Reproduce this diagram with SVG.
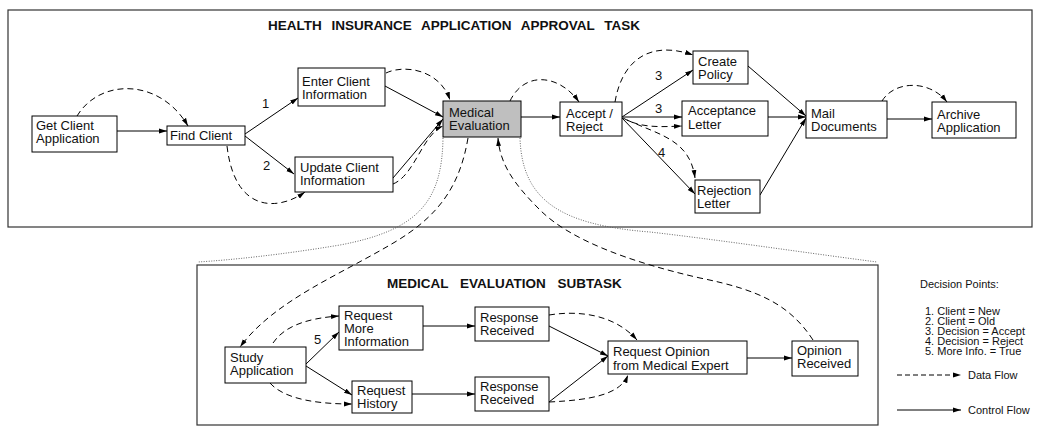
<svg xmlns="http://www.w3.org/2000/svg" width="1045" height="445" viewBox="0 0 1045 445">
<defs>
<marker id="ah" markerUnits="userSpaceOnUse" markerWidth="10" markerHeight="7" refX="8" refY="3" orient="auto">
<path d="M0,0.6 L8,3 L0,5.4 z" fill="#000"/>
</marker>
<style>
text{font-family:"Liberation Sans",Arial,sans-serif;fill:#111}
.n{font-size:13px}
.t{font-size:13.5px;font-weight:bold}
.l{font-size:11px}
.box{fill:#fff;stroke:#000;stroke-width:1}
.frame{fill:none;stroke:#333;stroke-width:1.2}
.c{fill:none;stroke:#000;stroke-width:1;marker-end:url(#ah)}
.d{fill:none;stroke:#000;stroke-width:1;stroke-dasharray:6 4;marker-end:url(#ah)}
.o{fill:none;stroke:#555;stroke-width:0.9;stroke-dasharray:1 1.5}
</style>
</defs>
<rect class="frame" x="8" y="10" width="1024" height="217"/>
<text class="t" x="268" y="30" word-spacing="6">HEALTH INSURANCE APPLICATION APPROVAL TASK</text>
<rect class="frame" x="197" y="265" width="681" height="160"/>
<text class="t" x="387" y="288" word-spacing="8">MEDICAL EVALUATION SUBTASK</text>

<g id="connectors">
<path class="o" d="M443,138 C442,200 420,230 340,245 C280,255 230,260 198,262"/>
<path class="o" d="M520,138 C522,200 560,225 650,232 C720,240 800,252 877,262"/>
<path class="c" d="M117,131 L167,131"/>
<path class="c" d="M245,134 L298,98"/>
<path class="c" d="M245,136 L294,174"/>
<path class="c" d="M385,86 L443,117"/>
<path class="c" d="M393,178 L443,119"/>
<path class="c" d="M521,117 L560,117"/>
<path class="c" d="M622,117 L693,70"/>
<path class="c" d="M622,117 L682,117"/>
<path class="c" d="M622,118 L695,194"/>
<path class="c" d="M748,66 L806,116"/>
<path class="c" d="M768,117 L806,117"/>
<path class="c" d="M760,195 L806,118"/>
<path class="c" d="M887,119 L932,119"/>
<path class="c" d="M306,364 L339,332"/>
<path class="c" d="M306,366 L352,395"/>
<path class="c" d="M423,326 L475,326"/>
<path class="c" d="M412,394 L475,394"/>
<path class="c" d="M549,326 L608,356"/>
<path class="c" d="M549,402 L608,356"/>
<path class="c" d="M747,358 L792,358"/>
<path class="d" d="M77,116 C100,78 160,78 188,126"/>
<path class="d" d="M227,146 C235,215 280,210 305,192"/>
<path class="d" d="M386,73 C405,64 440,70 450,100"/>
<path class="d" d="M393,184 C415,175 422,135 443,126"/>
<path class="d" d="M510,101 C525,70 560,75 579,102"/>
<path class="d" d="M615,102 C622,60 650,40 693,55"/>
<path class="d" d="M623,118 C640,128 660,127 682,126"/>
<path class="d" d="M627,120 C660,135 690,140 695,178"/>
<path class="d" d="M882,101 C895,80 930,80 947,102"/>
<path class="d" d="M468,138 C460,185 440,215 395,242 C340,275 275,300 240,347"/>
<path class="d" d="M813,340 C790,305 760,290 700,278 C630,262 570,240 540,210 C515,185 500,165 498,138"/>
<path class="d" d="M273,343 C285,325 310,318 339,316"/>
<path class="d" d="M270,383 C285,400 320,404 352,404"/>
<path class="d" d="M549,315 C580,310 615,315 637,340"/>
<path class="d" d="M549,402 C590,400 620,395 628,375"/>
</g>

<g id="labels">
<text class="n" x="262" y="108">1</text>
<text class="n" x="263" y="170">2</text>
<text class="n" x="655" y="80">3</text>
<text class="n" x="655" y="113">3</text>
<text class="n" x="658" y="157">4</text>
<text class="n" x="314" y="344">5</text>
</g>

<g id="get-client-application"><rect class="box" x="32" y="116" width="85" height="36"/><text class="n" x="36" y="130">Get Client</text><text class="n" x="36" y="143">Application</text></g>
<g id="find-client"><rect class="box" x="167" y="126" width="78" height="19"/><text class="n" x="170" y="140">Find Client</text></g>
<g id="enter-client-information"><rect class="box" x="298" y="68" width="87" height="38"/><text class="n" x="302" y="86">Enter Client</text><text class="n" x="302" y="99">Information</text></g>
<g id="update-client-information"><rect class="box" x="295" y="157" width="98" height="35"/><text class="n" x="300" y="172">Update Client</text><text class="n" x="300" y="185">Information</text></g>
<g id="medical-evaluation"><rect class="box" x="443" y="101" width="78" height="36" style="fill:#bfbfbf"/><text class="n" x="449" y="117">Medical</text><text class="n" x="449" y="130">Evaluation</text></g>
<g id="accept-reject"><rect class="box" x="560" y="102" width="62" height="34"/><text class="n" x="566" y="118">Accept /</text><text class="n" x="566" y="131">Reject</text></g>
<g id="create-policy"><rect class="box" x="693" y="51" width="55" height="33"/><text class="n" x="698" y="66">Create</text><text class="n" x="698" y="79">Policy</text></g>
<g id="acceptance-letter"><rect class="box" x="682" y="101" width="86" height="35"/><text class="n" x="688" y="115">Acceptance</text><text class="n" x="688" y="129">Letter</text></g>
<g id="rejection-letter"><rect class="box" x="695" y="180" width="65" height="33"/><text class="n" x="697" y="195">Rejection</text><text class="n" x="697" y="208">Letter</text></g>
<g id="mail-documents"><rect class="box" x="806" y="101" width="81" height="37"/><text class="n" x="811" y="118">Mail</text><text class="n" x="811" y="131">Documents</text></g>
<g id="archive-application"><rect class="box" x="932" y="102" width="84" height="36"/><text class="n" x="937" y="119">Archive</text><text class="n" x="937" y="132">Application</text></g>

<g id="study-application"><rect class="box" x="225" y="347" width="81" height="36"/><text class="n" x="230" y="362">Study</text><text class="n" x="230" y="375">Application</text></g>
<g id="request-more-information"><rect class="box" x="339" y="306" width="84" height="44"/><text class="n" x="344" y="320">Request</text><text class="n" x="344" y="333">More</text><text class="n" x="344" y="346">Information</text></g>
<g id="request-history"><rect class="box" x="352" y="381" width="60" height="32"/><text class="n" x="357" y="395">Request</text><text class="n" x="357" y="408">History</text></g>
<g id="response-received-1"><rect class="box" x="475" y="307" width="74" height="34"/><text class="n" x="480" y="322">Response</text><text class="n" x="480" y="335">Received</text></g>
<g id="response-received-2"><rect class="box" x="475" y="377" width="74" height="34"/><text class="n" x="480" y="391">Response</text><text class="n" x="480" y="404">Received</text></g>
<g id="request-opinion"><rect class="box" x="608" y="341" width="139" height="33"/><text class="n" x="613" y="356">Request Opinion</text><text class="n" x="613" y="370">from Medical Expert</text></g>
<g id="opinion-received"><rect class="box" x="792" y="341" width="66" height="35"/><text class="n" x="797" y="355">Opinion</text><text class="n" x="797" y="368">Received</text></g>

<g id="legend">
<text class="l" x="920" y="288">Decision Points:</text>
<text class="l" x="925" y="315">1. Client = New</text>
<text class="l" x="925" y="325">2. Client = Old</text>
<text class="l" x="925" y="335">3. Decision = Accept</text>
<text class="l" x="925" y="345">4. Decision = Reject</text>
<text class="l" x="925" y="355">5. More Info. = True</text>
<path d="M897,375 L961,375" fill="none" stroke="#000" stroke-dasharray="5 3" marker-end="url(#ah)"/>
<text class="l" x="968" y="379">Data Flow</text>
<path d="M897,410 L961,410" fill="none" stroke="#000" marker-end="url(#ah)"/>
<text class="l" x="968" y="414">Control Flow</text>
</g>
</svg>
